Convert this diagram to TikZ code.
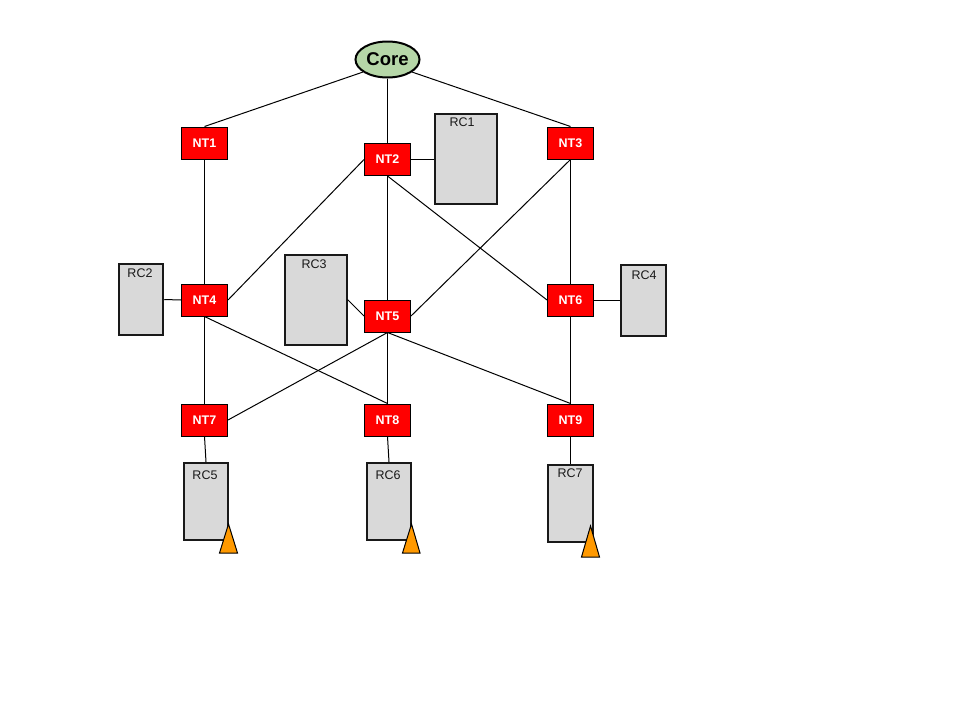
\documentclass[tikz,border=0pt]{standalone}
\usepackage{fontspec}
\setmainfont{Liberation Sans}
\usetikzlibrary{shapes.geometric}
\definecolor{coregreen}{HTML}{B6D7A8}
\definecolor{rcgrey}{HTML}{D9D9D9}
\definecolor{ntred}{HTML}{FF0000}
\definecolor{warn}{HTML}{FF9900}
\tikzset{
  ntbox/.style={rectangle,draw=black,line width=1pt,fill=ntred,text=white,font=\fontsize{12.5}{14}\selectfont\bfseries,minimum width=46pt,minimum height=32pt,inner sep=0pt},
  corenode/.style={ellipse,draw=black,line width=2pt,fill=coregreen,font=\fontsize{18.5}{20}\selectfont\bfseries,minimum width=64pt,minimum height=36pt,inner sep=0pt},
  rcbox/.style={rectangle,draw=black!90,line width=2pt,fill=rcgrey,inner sep=0pt},
  rctext/.style={font=\fontsize{12.5}{14}\selectfont,text=black!90,inner sep=0pt},
  link/.style={draw=black,line width=1pt},
  warntri/.style={draw=black,line width=1pt,fill=warn,line join=miter}
}
\newcommand{\rcnode}[5]{\node[rcbox,minimum width=#4pt,minimum height=#5pt] (#1) at (#2,#3) {};}
\begin{document}
\begin{tikzpicture}[x=1pt,y=-1pt]
\useasboundingbox (0,0) rectangle (960,720);
\fill[white] (0,0) rectangle (960,720);
\node[corenode] (core) at (387.5,59.5) {\raisebox{-0.7pt}{Core}};
\node[ntbox] (nt1) at (204.5,143) {NT1};
\node[ntbox] (nt2) at (387.5,159.5) {NT2};
\node[ntbox] (nt3) at (570.5,143) {NT3};
\node[ntbox] (nt4) at (204.5,300) {NT4};
\node[ntbox] (nt5) at (387.5,316) {NT5};
\node[ntbox] (nt6) at (570.5,300) {NT6};
\node[ntbox] (nt7) at (204.5,420) {NT7};
\node[ntbox] (nt8) at (387.5,420) {NT8};
\node[ntbox] (nt9) at (570.5,420) {NT9};
\rcnode{rc1}{465.5}{158.5}{62}{90}
\rcnode{rc2}{141}{299.5}{44.5}{71}
\rcnode{rc3}{315.5}{299.5}{62}{90}
\rcnode{rc4}{643.5}{300.5}{44.5}{71}
\rcnode{rc5}{206}{501.5}{44.5}{77}
\rcnode{rc6}{389}{501.5}{44.5}{77}
\rcnode{rc7}{570.5}{503.5}{44.5}{77}
\node[rctext] (t1) at (462,122) {RC1};
\node[rctext] (t2) at (140,273) {RC2};
\node[rctext] (t3) at (314,264) {RC3};
\node[rctext] (t4) at (644,275) {RC4};
\node[rctext] (t5) at (205,475) {RC5};
\node[rctext] (t6) at (388,475) {RC6};
\node[rctext] (t7) at (570,473) {RC7};
\draw[link] (core.207) -- (nt1.north);
\draw[link] (core.south) -- (nt2.north);
\draw[link] (core.333) -- (nt3.north);
\draw[link] (nt1.south) -- (nt4.north);
\draw[link] (nt2.west) -- (nt4.east);
\draw[link] (nt2.south) -- (nt5.north);
\draw[link] (nt2.south) -- (nt6.west);
\draw[link] (nt3.south) -- (nt5.east);
\draw[link] (nt3.south) -- (nt6.north);
\draw[link] (nt4.south) -- (nt7.north);
\draw[link] (nt4.south) -- (nt8.north);
\draw[link] (nt5.south) -- (nt7.east);
\draw[link] (nt5.south) -- (nt8.north);
\draw[link] (nt5.south) -- (nt9.north);
\draw[link] (nt6.south) -- (nt9.north);
\draw[link] (nt2.east) -- (rc1.west |- nt2.east);
\draw[link] (nt4.west) -- (rc2.east);
\draw[link] (nt5.west) -- (rc3.east);
\draw[link] (nt6.east) -- (rc4.west |- nt6.east);
\draw[link] (nt7.south) -- (rc5.north);
\draw[link] (nt8.south) -- (rc6.north);
\draw[link] (nt9.south) -- (nt9.south |- rc7.north);
\draw[warntri] (219.5,553) -- (228.5,524) -- (237.5,553) -- cycle;
\draw[warntri] (402.5,553) -- (411.5,524) -- (420,553) -- cycle;
\draw[warntri] (581.5,557) -- (590.5,526) -- (599.5,557) -- cycle;
\end{tikzpicture}
\end{document}
